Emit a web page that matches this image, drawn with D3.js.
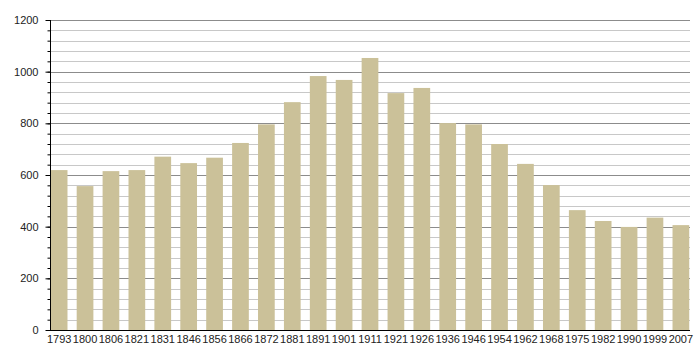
<!DOCTYPE html>
<html>
<head>
<meta charset="utf-8">
<script src="https://cdn.jsdelivr.net/npm/d3@7"></script>
<style>
  html, body { margin: 0; padding: 0; background: #fff; }
  svg { display: block; font-family: "Liberation Sans", Arial, sans-serif; }
</style>
</head>
<body>
<svg id="chart" width="700" height="360"></svg>
<script>
const years = ["1793","1800","1806","1821","1831","1846","1856","1866","1872","1881","1891","1901","1911","1921","1926","1936","1946","1954","1962","1968","1975","1982","1990","1999","2007"];
const population = [619,557,615,619,671,646,667,724,796,882,983,968,1053,917,937,801,796,720,643,561,464,422,399,435,406];
const yMajorTicks = [0,200,400,600,800,1000,1200];
const yMinorTicks = d3.range(0, 1201, 40);

(function () {
const svg = d3.select("#chart");
const mLeft = 50, mRight = 690, mTop = 20, mBottom = 330;

const x = d3.scaleBand().domain(years).range([mLeft, mRight]).paddingInner(0.355).paddingOuter(0.03);
const y = d3.scaleLinear().domain([0, 1200]).range([mBottom, mTop]);

// minor gridlines
svg.append("g").selectAll("line").data(yMinorTicks.filter(v => v % 200 !== 0)).join("line")
  .attr("x1", mLeft).attr("x2", mRight)
  .attr("y1", d => Math.round(y(d)) + 0.5).attr("y2", d => Math.round(y(d)) + 0.5)
  .attr("stroke", "#c8c8c8").attr("stroke-width", 1);
// major gridlines
svg.append("g").selectAll("line").data(yMajorTicks.filter(v => v > 0)).join("line")
  .attr("x1", mLeft).attr("x2", mRight)
  .attr("y1", d => Math.round(y(d)) + 0.5).attr("y2", d => Math.round(y(d)) + 0.5)
  .attr("stroke", "#8c8c8c").attr("stroke-width", 1);

// bars
svg.append("g").selectAll("rect").data(years).join("rect")
  .attr("x", d => x(d))
  .attr("width", x.bandwidth())
  .attr("y", (d, i) => y(population[i]))
  .attr("height", (d, i) => mBottom - y(population[i]))
  .attr("fill", "#cbc199");

// y axis minor ticks
const yAxisMinor = d3.axisLeft(y).tickValues(yMinorTicks).tickSize(3).tickFormat("");
svg.append("g").attr("transform", `translate(${mLeft + 0.5},0)`).call(yAxisMinor)
  .call(g => g.select(".domain").remove())
  .call(g => g.selectAll("line").attr("stroke", "#000"));
// y axis major
const yAxis = d3.axisLeft(y).tickValues(yMajorTicks).tickSize(5).tickPadding(7).tickFormat(d3.format("d"));
svg.append("g").attr("transform", `translate(${mLeft + 0.5},0)`).call(yAxis)
  .call(g => g.select(".domain").attr("stroke", "#000").attr("d", `M0,${mTop}V${mBottom}`))
  .call(g => g.selectAll("line").attr("stroke", "#000"))
  .call(g => g.selectAll("text").attr("font-size", 11).attr("fill", "#222").attr("font-family", "Liberation Sans, Arial, sans-serif"));

// x axis
const xAxis = d3.axisBottom(x).tickSize(0).tickPadding(5);
svg.append("g").attr("transform", `translate(0,${mBottom + 0.5})`).call(xAxis)
  .call(g => g.select(".domain").attr("stroke", "#000").attr("d", `M${mLeft},0H${mRight}`))
  .call(g => g.selectAll("text").attr("font-size", 11).attr("fill", "#222").attr("font-family", "Liberation Sans, Arial, sans-serif"));
})();
</script>
</body>
</html>
